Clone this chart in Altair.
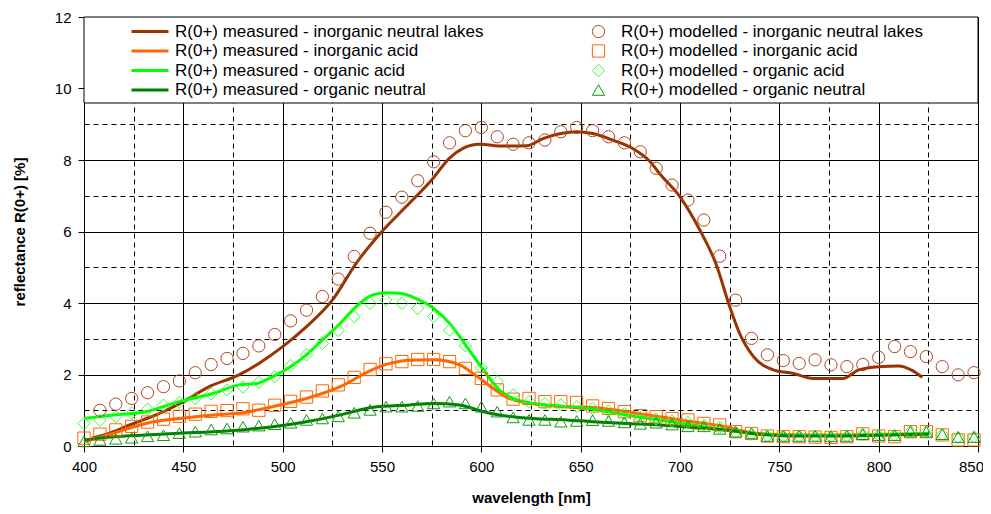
import altair as alt
import pandas as pd

# ---------------- data ----------------
measured_names = [
    "R(0+) measured - inorganic neutral lakes",
    "R(0+) measured - inorganic acid",
    "R(0+) measured - organic acid",
    "R(0+) measured - organic neutral",
]
measured_colors = ["#993300", "#FF6600", "#00FF00", "#008000"]

modelled_names = [
    "R(0+) modelled - inorganic neutral lakes",
    "R(0+) modelled - inorganic acid",
    "R(0+) modelled - organic acid",
    "R(0+) modelled - organic neutral",
]
modelled_colors = ["#B0461E", "#FF6600", "#33FF33", "#119911"]
modelled_shapes = ["circle", "square", "diamond", "triangle-up"]

# measured spectra
wl_lakes = [404, 413, 423, 438, 450, 463, 478, 488, 500, 512, 525, 537, 550, 562, 575, 584,
            591, 599, 611, 623, 631, 640, 648, 656, 666, 676, 685, 690, 700, 710, 718, 725,
            730, 737, 747, 757, 767, 782, 790, 800, 810, 817, 822]
r_lakes = [0.22, 0.36, 0.59, 0.91, 1.24, 1.66, 1.99, 2.31, 2.78, 3.34, 4.08, 5.11, 6.00, 6.69,
           7.44, 8.05, 8.33, 8.44, 8.39, 8.40, 8.60, 8.74, 8.79, 8.74, 8.56, 8.33, 7.95, 7.60,
           6.97, 6.04, 5.11, 3.90, 3.15, 2.50, 2.13, 2.03, 1.89, 1.89, 2.13, 2.22, 2.24, 2.11, 1.92]

wl_inorg_acid = [400, 415, 431, 448, 465, 480, 495, 512, 529, 545, 554, 564, 576, 589, 598, 606,
                 614, 626, 643, 656, 673, 690, 706, 723, 735, 750, 770, 790, 810, 825]
r_inorg_acid = [0.12, 0.36, 0.63, 0.77, 0.87, 0.93, 1.10, 1.33, 1.66, 2.13, 2.31, 2.40, 2.41,
                2.27, 1.94, 1.61, 1.33, 1.19, 1.10, 1.08, 0.96, 0.82, 0.68, 0.54, 0.38, 0.32,
                0.30, 0.31, 0.32, 0.35]

wl_org_acid = [400, 415, 431, 448, 465, 478, 487, 495, 504, 512, 520, 529, 537, 545, 552, 559,
               567, 576, 584, 592, 601, 609, 618, 626, 643, 656, 673, 690, 706, 723, 740, 760,
               780, 800, 825]
r_org_acid = [0.77, 0.87, 0.96, 1.24, 1.47, 1.71, 1.75, 1.94, 2.22, 2.55, 2.97, 3.43, 3.90,
              4.22, 4.29, 4.27, 4.13, 3.85, 3.43, 2.83, 2.13, 1.57, 1.29, 1.19, 1.10, 1.03,
              0.87, 0.73, 0.59, 0.45, 0.33, 0.30, 0.30, 0.32, 0.35]

wl_org_neutral = [400, 415, 431, 448, 465, 483, 495, 512, 529, 545, 564, 576, 589, 601, 609,
                  626, 643, 656, 673, 690, 706, 723, 740, 760, 780, 800, 825]
r_org_neutral = [0.17, 0.26, 0.31, 0.36, 0.40, 0.47, 0.54, 0.68, 0.87, 1.08, 1.15, 1.19, 1.15,
                 0.96, 0.87, 0.77, 0.73, 0.68, 0.63, 0.59, 0.52, 0.45, 0.33, 0.28, 0.28, 0.30, 0.33]

# modelled spectra (8 nm sampling)
wl_model = [400, 408, 416, 424, 432, 440, 448, 456, 464, 472, 480, 488, 496, 504, 512, 520,
            528, 536, 544, 552, 560, 568, 576, 584, 592, 600, 608, 616, 624, 632, 640, 648,
            656, 664, 672, 680, 688, 696, 704, 712, 720, 728, 736, 744, 752, 760, 768, 776,
            784, 792, 800, 808, 816, 824, 832, 840, 848]
wl_model_lakes = wl_model[1:]
m_lakes = [1.00, 1.17, 1.33, 1.49, 1.66, 1.82, 2.05, 2.28, 2.45, 2.59, 2.80, 3.12, 3.50, 3.80,
           4.18, 4.67, 5.30, 5.95, 6.54, 6.96, 7.42, 7.95, 8.48, 8.82, 8.91, 8.65, 8.44, 8.48,
           8.56, 8.79, 8.91, 8.82, 8.65, 8.48, 8.23, 7.77, 7.30, 6.88, 6.32, 5.31, 4.08, 3.01,
           2.55, 2.39, 2.31, 2.41, 2.27, 2.22, 2.28, 2.48, 2.78, 2.64, 2.50, 2.22, 1.99, 2.05]
m_inorg_acid = [0.22, 0.33, 0.45, 0.55, 0.67, 0.75, 0.83, 0.89, 0.97, 0.99, 1.04, 1.00, 1.14,
                1.25, 1.37, 1.54, 1.71, 1.92, 2.14, 2.30, 2.36, 2.42, 2.42, 2.36, 2.17, 1.89,
                1.57, 1.31, 1.33, 1.24, 1.24, 1.22, 1.12, 1.05, 0.96, 0.85, 0.82, 0.77, 0.73,
                0.63, 0.59, 0.40, 0.35, 0.28, 0.26, 0.26, 0.25, 0.24, 0.26, 0.34, 0.28, 0.26,
                0.40, 0.40, 0.31, 0.17, 0.17]
m_org_acid = [0.63, 0.72, 0.82, 0.92, 1.03, 1.14, 1.22, 1.33, 1.46, 1.57, 1.65, 1.78, 1.94,
              2.25, 2.55, 2.87, 3.23, 3.62, 3.99, 4.08, 3.99, 3.85, 3.62, 3.24, 2.80, 2.19,
              1.80, 1.43, 1.24, 1.19, 1.15, 1.10, 1.05, 0.98, 0.90, 0.80, 0.75, 0.70, 0.66,
              0.58, 0.52, 0.38, 0.33, 0.28, 0.27, 0.27, 0.27, 0.26, 0.28, 0.33, 0.30, 0.30,
              0.40, 0.40, 0.32, 0.24, 0.26]
m_org_neutral = [0.13, 0.17, 0.20, 0.23, 0.27, 0.30, 0.36, 0.40, 0.46, 0.49, 0.54, 0.57, 0.61,
                 0.65, 0.73, 0.77, 0.83, 0.93, 1.01, 1.10, 1.10, 1.12, 1.19, 1.24, 1.19, 1.10,
                 0.96, 0.80, 0.73, 0.73, 0.68, 0.70, 0.72, 0.70, 0.66, 0.62, 0.65, 0.60, 0.55,
                 0.55, 0.48, 0.40, 0.35, 0.28, 0.28, 0.28, 0.28, 0.27, 0.28, 0.33, 0.30, 0.30,
                 0.40, 0.40, 0.33, 0.25, 0.25]

x_ticks = [400, 425, 450, 475, 500, 525, 550, 575, 600, 625, 650, 675, 700, 725, 750, 775,
           800, 825, 850]
y_ticks = [0, 1, 2, 3, 4, 5, 6, 7, 8, 9, 10, 11, 12]

# ---------------- tables ----------------
meas_rows = []
for name, wl, vals in zip(measured_names,
                          [wl_lakes, wl_inorg_acid, wl_org_acid, wl_org_neutral],
                          [r_lakes, r_inorg_acid, r_org_acid, r_org_neutral]):
    for w, v in zip(wl, vals):
        meas_rows.append({"series": name, "wavelength": w, "R": v})
df_meas = pd.DataFrame(meas_rows)

mod_rows = []
for name, wl, vals in zip(modelled_names,
                          [wl_model_lakes, wl_model, wl_model, wl_model],
                          [m_lakes, m_inorg_acid, m_org_acid, m_org_neutral]):
    for w, v in zip(wl, vals):
        mod_rows.append({"series": name, "wavelength": w, "R": v})
df_mod = pd.DataFrame(mod_rows)

W, H = 894, 429
FONT = "Liberation Sans"

x_axis = alt.Axis(
    values=x_ticks,
    title="wavelength [nm]",
    titleFontSize=15, titleFont=FONT, titleFontWeight="bold", titleColor="black",
    titlePadding=16,
    labelExpr="datum.value % 50 == 0 ? datum.label : ''",
    labelFont=FONT, labelFontSize=15, labelColor="black", labelPadding=7,
    labelFlush=False, labelOverlap=False,
    labelOffset={"condition": {"test": "datum.value == 850", "value": -7}, "value": 0},
    tickSize=6, tickColor="black",
    tickOpacity={"condition": {"test": "datum.value % 50 != 0", "value": 0}, "value": 1},
    domainColor="black",
    grid=True, gridColor="black", gridOpacity=1, gridWidth=1,
    gridDash={"condition": {"test": "datum.value % 50 != 0", "value": [5, 4]}, "value": []},
)
y_axis = alt.Axis(
    values=y_ticks,
    title="reflectance R(0+) [%]",
    titleFontSize=15, titleFont=FONT, titleFontWeight="bold", titleColor="black",
    titlePadding=27,
    labelExpr="datum.value % 2 == 0 ? datum.label : ''",
    labelFont=FONT, labelFontSize=15, labelColor="black", labelPadding=7,
    labelFlush=False, labelOverlap=False,
    tickSize=6, tickColor="black",
    tickOpacity={"condition": {"test": "datum.value % 2 != 0", "value": 0}, "value": 1},
    domainColor="black",
    grid=True, gridColor="black", gridOpacity=1, gridWidth=1,
    gridDash={"condition": {"test": "datum.value % 2 != 0", "value": [5, 4]}, "value": []},
)

x_enc = alt.X("wavelength:Q",
              scale=alt.Scale(domain=[400, 850], nice=False, zero=False, padding=0),
              axis=x_axis)
y_enc = alt.Y("R:Q", scale=alt.Scale(domain=[0, 12], nice=False, zero=False, padding=0),
              axis=y_axis)

# legend box (white panel with frame at the top of the plot area)
box = alt.Chart(pd.DataFrame({"k": [0]})).mark_rect(
    fill="white", stroke="black", strokeWidth=1
).encode(x=alt.value(0), x2=alt.value(W), y=alt.value(0), y2=alt.value(86))

line_legend = alt.Legend(
    title=None, orient="none", legendX=46, legendY=5, padding=0,
    symbolType="stroke", symbolSize=1369, symbolStrokeWidth=3,
    clipHeight=19, rowPadding=0.5, labelOffset=5,
    labelFont=FONT, labelFontSize=17, labelColor="black", labelLimit=500,
)
lines = alt.Chart(df_meas).mark_line(strokeWidth=3, interpolate="monotone").encode(
    x=x_enc, y=y_enc,
    color=alt.Color("series:N", scale=alt.Scale(domain=measured_names, range=measured_colors),
                    legend=line_legend, sort=measured_names),
)

pt_legend = alt.Legend(
    title=None, orient="none", legendX=506, legendY=5, padding=0,
    symbolSize=150, symbolStrokeWidth=1, symbolFillColor="transparent",
    clipHeight=19, rowPadding=0.5, labelOffset=14,
    labelFont=FONT, labelFontSize=17, labelColor="black", labelLimit=500,
)
points = alt.Chart(df_mod).mark_point(filled=False, size=150, strokeWidth=1, opacity=1).encode(
    x=x_enc, y=y_enc,
    color=alt.Color("series:N", scale=alt.Scale(domain=modelled_names, range=modelled_colors),
                    legend=pt_legend, sort=modelled_names),
    shape=alt.Shape("series:N", scale=alt.Scale(domain=modelled_names, range=modelled_shapes),
                    legend=pt_legend, sort=modelled_names),
)

chart = alt.layer(box, lines, points).resolve_scale(
    color="independent", shape="independent"
).properties(
    width=W, height=H,
    autosize=alt.AutoSizeParams(type="none"),
    padding={"left": 76, "top": 9, "right": 5, "bottom": 60},
    background="white",
).configure_view(stroke="black", strokeWidth=1)

chart.save("out.html", embed_options={"renderer": "svg", "actions": False})
